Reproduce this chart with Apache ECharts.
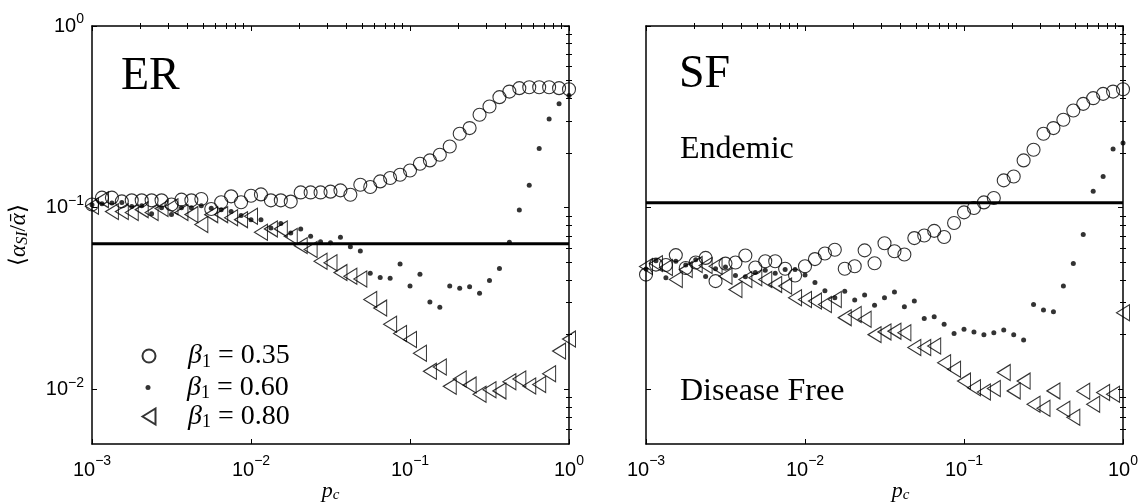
<!DOCTYPE html>
<html><head><meta charset="utf-8">
<script src="https://cdn.jsdelivr.net/npm/echarts@6/dist/echarts.min.js"></script>
<style>html,body{margin:0;padding:0;background:#fff}#c{width:1145px;height:504px}</style>
</head><body><div id="c"></div>
<script>
// x values p_c (shared by all series)
const pc = [0.001, 0.001155, 0.001334, 0.00154, 0.001778, 0.002054, 0.002371, 0.002738, 0.003162, 0.003652,
  0.004217, 0.00487, 0.005623, 0.006494, 0.007499, 0.00866, 0.01, 0.01155, 0.01334, 0.0154,
  0.01778, 0.02054, 0.02371, 0.02738, 0.03162, 0.03652, 0.04217, 0.0487, 0.05623, 0.06494,
  0.07499, 0.0866, 0.1, 0.1155, 0.1334, 0.154, 0.1778, 0.2054, 0.2371, 0.2738,
  0.3162, 0.3652, 0.4217, 0.487, 0.5623, 0.6494, 0.7499, 0.866, 1.0];

// ER panel
const erB035 = [0.104, 0.1135, 0.1135, 0.1083, 0.1097, 0.1097, 0.1097, 0.1097, 0.104, 0.1107,
  0.1097, 0.1116, 0.0984, 0.107, 0.1154, 0.107, 0.1164, 0.1183, 0.1097, 0.1097,
  0.108, 0.1213, 0.1213, 0.1213, 0.1225, 0.1245, 0.1178, 0.1337, 0.130, 0.1395,
  0.1456, 0.1518, 0.1603, 0.1745, 0.182, 0.1955, 0.2173, 0.2553, 0.2742, 0.3244,
  0.3603, 0.4058, 0.4355, 0.4548, 0.4605, 0.4605, 0.4605, 0.4548, 0.4487];
const erB060 = [0.1039, 0.1052, 0.1062, 0.1069, 0.1016, 0.1026, 0.0927, 0.1, 0.0918, 0.1,
  0.1, 0.1026, 0.0991, 0.0975, 0.0951, 0.0904, 0.0859, 0.0859, 0.0773, 0.0817,
  0.0726, 0.0764, 0.0695, 0.065, 0.064, 0.0687, 0.061, 0.0578, 0.0436, 0.0412,
  0.0409, 0.049, 0.037, 0.043, 0.0302, 0.0283, 0.0371, 0.036, 0.0367, 0.0338,
  0.0397, 0.0462, 0.0645, 0.0971, 0.133, 0.212, 0.308, 0.373, 0.414];
const erB080 = [0.1017, 0.1107, 0.0951, 0.0951, 0.094, 0.0975, 0.094, 0.0988, 0.1012, 0.094,
  0.0916, 0.0807, 0.0915, 0.0915, 0.088, 0.0859, 0.0896, 0.0732, 0.0764, 0.0764,
  0.0695, 0.0618, 0.0588, 0.0507, 0.0497, 0.0439, 0.0419, 0.0405, 0.0312, 0.028,
  0.0228, 0.0203, 0.0188, 0.0158, 0.01256, 0.01327, 0.01038, 0.0114, 0.01055, 0.0094,
  0.00994, 0.0098, 0.011, 0.0114, 0.01042, 0.01064, 0.01217, 0.01623, 0.0189];
const erThreshold = 0.0632;

// SF panel
const sfB035 = [0.0428, 0.0486, 0.0483, 0.0548, 0.0465, 0.0499, 0.0529, 0.0394, 0.0492, 0.0499,
  0.0545, 0.0468, 0.0507, 0.0507, 0.0461, 0.0423, 0.0476, 0.0521, 0.0559, 0.0586,
  0.0461, 0.0476, 0.0582, 0.0494, 0.0637, 0.0576, 0.0552, 0.068, 0.0703, 0.0745,
  0.069, 0.0824, 0.0942, 0.0996, 0.1069, 0.113, 0.1413, 0.1485, 0.182, 0.2084,
  0.2553, 0.2742, 0.3046, 0.3425, 0.3727, 0.4006, 0.423, 0.4355, 0.4487];
const sfB060 = [0.0459, 0.051, 0.0411, 0.0507, 0.0483, 0.0516, 0.0418, 0.0461, 0.0472, 0.0423,
  0.0416, 0.0439, 0.0452, 0.0436, 0.0456, 0.0456, 0.0426, 0.0387, 0.0349, 0.0319,
  0.0347, 0.031, 0.0331, 0.029, 0.0319, 0.0343, 0.0285, 0.0306, 0.0245, 0.0251,
  0.0228, 0.0203, 0.0214, 0.0207, 0.02, 0.0205, 0.0212, 0.02, 0.0187, 0.0293,
  0.0273, 0.0267, 0.037, 0.0492, 0.0711, 0.123, 0.1486, 0.2102, 0.2268];
const sfB080 = [0.0474, 0.0492, 0.0468, 0.0402, 0.0456, 0.0486, 0.048, 0.0476, 0.0419, 0.0354,
  0.0402, 0.0411, 0.0402, 0.0378, 0.037, 0.0319, 0.0312, 0.0306, 0.0293, 0.0312,
  0.0248, 0.0258, 0.0243, 0.02, 0.0207, 0.0209, 0.0205, 0.017, 0.017, 0.0173,
  0.014, 0.0129, 0.0111, 0.0102, 0.00966, 0.0101, 0.01236, 0.0098, 0.0111, 0.00827,
  0.00787, 0.0098, 0.00777, 0.00702, 0.00975, 0.00827, 0.0096, 0.0094, 0.0264];
const sfThreshold = 0.1065;

// axes / labels
const xMin = 0.001, xMax = 1, yMin = 0.005, yMax = 1;
const xMajorExps = [-3, -2, -1, 0];
const yMajorExps = [-2, -1, 0];
const seriesNames = ['β1 = 0.35', 'β1 = 0.60', 'β1 = 0.80'];
const legendValues = ['0.35', '0.60', '0.80'];
const panelNames = ['ER', 'SF'];

const L = Math.log10;
const sans = 'Liberation Sans, Arial, sans-serif';
const serif = 'Liberation Serif, DejaVu Serif, serif';

function minorTicks(lo, hi) {
  const out = [];
  for (let e = -4; e <= 0; e++) for (let m = 2; m <= 9; m++) {
    const v = L(m) + e;
    if (v > lo + 1e-6 && v < hi - 1e-6) out.push(v);
  }
  return out;
}
function supLabel(v) {
  const e = Math.round(v);
  return '{m|10}{s|' + (e < 0 ? '\u2212' + (-e) : String(e)) + '}';
}
const tickStyle = { color: '#000', width: 1 };
const lineStyle = { color: '#000', width: 1.5 };

function axisSet(dim, gi) {
  const lo = dim === 'x' ? L(xMin) : L(yMin);
  const hi = dim === 'x' ? L(xMax) : L(yMax);
  const majors = dim === 'x' ? xMajorExps : yMajorExps;
  const minors = minorTicks(lo, hi);
  const pos = dim === 'x' ? ['bottom', 'top'] : ['left', 'right'];
  const base = { type: 'value', gridIndex: gi, min: lo, max: hi, splitLine: { show: false } };
  const richX = { m: { fontSize: 20, fontFamily: sans, color: '#000', lineHeight: 33 },
                  s: { fontSize: 14, fontFamily: sans, color: '#000', lineHeight: 14, verticalAlign: 'top' } };
  const richY = { m: { fontSize: 20, fontFamily: sans, color: '#000', lineHeight: 27 },
                  s: { fontSize: 14, fontFamily: sans, color: '#000', lineHeight: 14, verticalAlign: 'top' } };
  const showLabels = dim === 'x' || gi === 0;
  const main = Object.assign({}, base, {
    position: pos[0],
    axisLine: { show: true, onZero: false, lineStyle },
    axisTick: { show: true, inside: true, length: 5, customValues: majors, lineStyle: tickStyle },
    axisLabel: { show: showLabels, customValues: majors, formatter: supLabel,
                 fontSize: 20, fontFamily: sans, color: '#000',
                 margin: dim === 'x' ? 10 : 8, rich: dim === 'x' ? richX : richY }
  });
  if (dim === 'x') {
    main.name = '{i|p}{c|c}';
    main.nameLocation = 'middle';
    main.nameGap = 35;
    main.nameMoveOverlap = false;
    main.nameTextStyle = { fontSize: 22, fontFamily: serif, color: '#000',
      padding: gi === 1 ? [0, 0, 0, 32] : 0, rich: {
      i: { fontFamily: serif, fontStyle: 'italic', fontSize: 22, color: '#000', lineHeight: 24 },
      c: { fontFamily: serif, fontStyle: 'italic', fontSize: 15, color: '#000', lineHeight: 17, verticalAlign: 'bottom' } } };
  } else if (gi === 0) {
    main.name = '{a|\u27e8}{i|\u03b1}{s|SI}{a|/}{i|\u1fb1}{a|\u27e9}';
    main.nameLocation = 'middle';
    main.nameRotate = 90;
    main.nameGap = 61;
    main.nameMoveOverlap = false;
    main.nameTextStyle = { fontSize: 23, fontFamily: serif, color: '#000', rich: {
      a: { fontFamily: serif, fontSize: 23, color: '#000', lineHeight: 24 },
      i: { fontFamily: serif, fontStyle: 'italic', fontSize: 23, color: '#000', lineHeight: 24 },
      s: { fontFamily: serif, fontStyle: 'italic', fontSize: 16, color: '#000', lineHeight: 17, verticalAlign: 'bottom' } } };
  }
  const minor = Object.assign({}, base, {
    position: pos[0], axisLine: { show: false },
    axisTick: { show: true, inside: true, length: 3, customValues: minors, lineStyle: tickStyle },
    axisLabel: { show: false }
  });
  const opp = Object.assign({}, base, {
    position: pos[1], axisLine: { show: true, onZero: false, lineStyle },
    axisTick: { show: true, inside: true, length: 5, customValues: majors, lineStyle: tickStyle },
    axisLabel: { show: false }
  });
  const oppMinor = Object.assign({}, base, {
    position: pos[1], axisLine: { show: false },
    axisTick: { show: true, inside: true, length: 3, customValues: minors, lineStyle: tickStyle },
    axisLabel: { show: false }
  });
  return [main, minor, opp, oppMinor];
}

const triPath = 'path://M0,8L13,0L13,16Z';
const symbols = [
  { symbol: 'circle', symbolSize: 13, itemStyle: { color: 'rgba(0,0,0,0)', borderColor: '#000', borderWidth: 1.1 } },
  { symbol: 'circle', symbolSize: 5, itemStyle: { color: '#000', borderWidth: 0 } },
  { symbol: triPath, symbolSize: [13, 16], itemStyle: { color: 'rgba(0,0,0,0)', borderColor: '#000', borderWidth: 1.1 } }
];

const panels = [[erB035, erB060, erB080, erThreshold], [sfB035, sfB060, sfB080, sfThreshold]];
const series = [];
panels.forEach((p, gi) => {
  for (let s = 0; s < 3; s++) {
    series.push(Object.assign({
      type: 'scatter', name: seriesNames[s], xAxisIndex: gi * 4, yAxisIndex: gi * 4,
      data: pc.map((x, i) => [L(x), L(p[s][i])]), silent: true, z: 2
    }, symbols[s]));
  }
  series.push({
    type: 'line', name: panelNames[gi] + ' threshold', xAxisIndex: gi * 4, yAxisIndex: gi * 4,
    data: [[L(xMin), L(p[3])], [L(xMax), L(p[3])]], showSymbol: false, symbol: 'none',
    lineStyle: { color: '#000', width: 3 }, silent: true, z: 3
  });
});

const legendIcons = ['circle', 'circle', triPath];
const legendW = [13, 5, 13], legendH = [13, 5, 16];
const rowCenters = [357, 388.5, 417.5];
const legends = seriesNames.map((n, i) => ({
  data: [{ name: n, icon: legendIcons[i] }],
  left: 148 - legendW[i] / 2, top: rowCenters[i] - 15,
  itemWidth: legendW[i], itemHeight: legendH[i], selectedMode: false, padding: 0,
  formatter: () => '{g|}{b|\u03b2}{s|1}{t| = ' + legendValues[i] + '}',
  textStyle: { rich: {
    g: { width: 34 - legendW[i] / 2, lineHeight: 30 },
    b: { fontFamily: serif, fontStyle: 'italic', fontSize: 28, color: '#000', lineHeight: 30 },
    s: { fontFamily: serif, fontSize: 18, color: '#000', lineHeight: 22, verticalAlign: 'bottom' },
    t: { fontFamily: serif, fontSize: 28, color: '#000', lineHeight: 30 } } }
}));

const xAxis = [].concat(axisSet('x', 0), axisSet('x', 1));
const yAxis = [].concat(axisSet('y', 0), axisSet('y', 1));

const chart = echarts.init(document.getElementById('c'), null, { renderer: 'canvas' });
chart.setOption({
  backgroundColor: '#fff',
  animation: false,
  grid: [
    { left: 92, top: 26, width: 477, height: 418, containLabel: false, outerBoundsMode: 'none' },
    { left: 646, top: 26, width: 477, height: 418, containLabel: false, outerBoundsMode: 'none' }
  ],
  xAxis, yAxis, series, legend: legends,
  graphic: [
    { type: 'text', left: 121, top: 54, style: { text: panelNames[0], font: '46px ' + serif, fill: '#000' } },
    { type: 'text', left: 679, top: 52, style: { text: panelNames[1], font: '46px ' + serif, fill: '#000' } },
    { type: 'text', left: 680, top: 134, style: { text: 'Endemic', font: '32px ' + serif, fill: '#000' } },
    { type: 'text', left: 680, top: 376, style: { text: 'Disease Free', font: '32px ' + serif, fill: '#000' } }
  ]
});
</script></body></html>
